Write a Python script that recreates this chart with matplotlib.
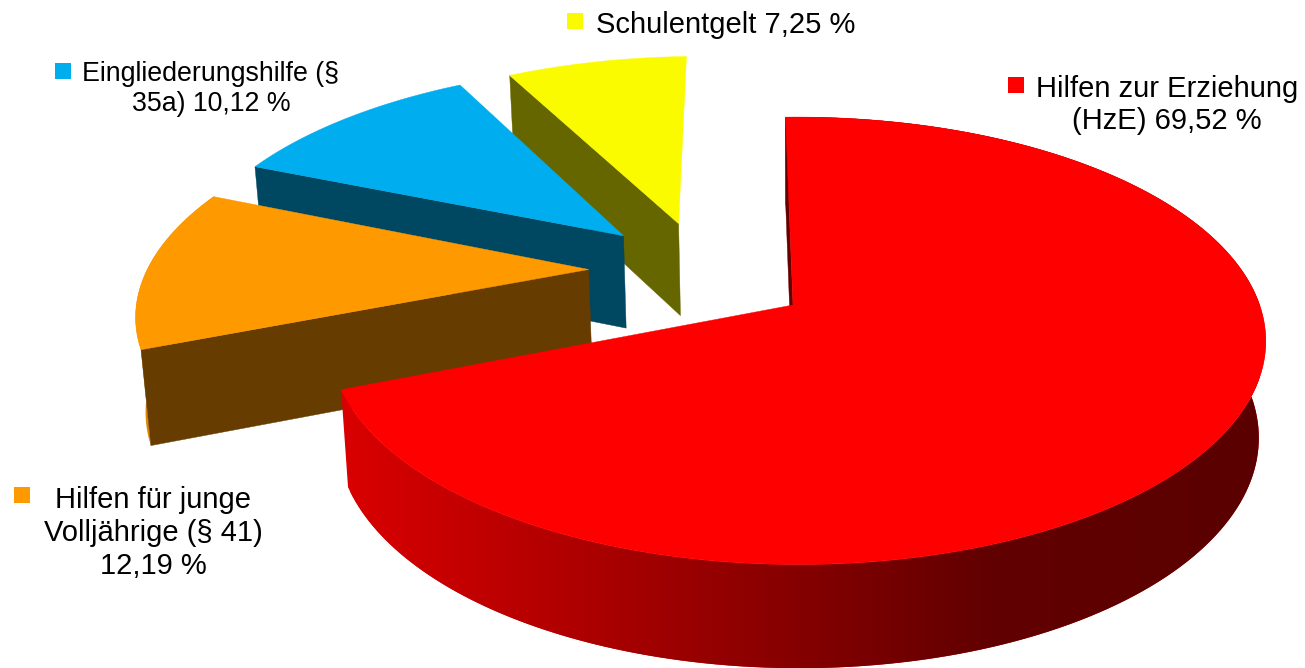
import numpy as np
import matplotlib
matplotlib.use('Agg')
import matplotlib.pyplot as plt
from matplotlib.colors import LinearSegmentedColormap

plt.rcParams['font.family'] = ['Liberation Sans', 'DejaVu Sans']

values = [69.52, 12.19, 10.12, 7.25]
label_texts = ['Hilfen zur Erziehung\n(HzE) 69,52 %', 'Hilfen für junge\nVolljährige (§ 41)\n12,19 %',
               'Eingliederungshilfe (§\n35a) 10,12 %', 'Schulentgelt 7,25 %']

top_colors = ['#ff0000', '#ff9900', '#00aeef', '#fbfb00']
side_colors = ['#660000', '#663c00', '#004762', '#666600']
arc_colors = ['#d80000', '#e08600', None, None]
# how far each slice is pulled out, in units of the radius
explode = [(0, 0), (-0.456, 0.168), (-0.388, 0.336), (-0.264, 0.398)]

label_pos = [(1167, 105), (153, 533), (211, 89), (726, 25)]
key_pos = [(1016, 85), (22, 495), (63, 71), (575, 21)]
label_size = [21, 21, 19.3, 21]

CX, CY = 793, 305
RX, RY = 462, 218
PERSP = 0.16
PERSP_X = 0.01
DEPTH = 95
START = -3.0

red_side = LinearSegmentedColormap.from_list('red_side', [(0, '#d80000'), (0.7, '#620000'), (1, '#5a0000')])


def project(x, y, bottom=False):
    w = 1 + PERSP * y - PERSP_X * x
    sx = CX + RX * x / w
    sy = CY - RY * y / w
    if bottom:
        sx = 800 + (sx - 800) * 0.985
        sy = sy + DEPTH / np.sqrt(w)
    return np.column_stack([sx, sy])


def warp(a):
    # the camera view squeezes the angles a bit
    return a + 2 * np.sin(np.radians(2 * (a - 320)))


fig = plt.figure(figsize=(13.05, 6.68), dpi=100)
ax = fig.add_axes([0, 0, 1, 1])

angles = np.cumsum([0] + values) / sum(values) * 360 + START

# back slices first, the red one goes on top
for i in [3, 2, 1, 0]:
    z = 1 + (3 - i) * 3
    t = np.radians(warp(np.linspace(angles[i], angles[i + 1], 200)))
    ex, ey = explode[i]
    xs = ex + np.sin(t)
    ys = ey + np.cos(t)
    apex_t = project(np.array([ex]), np.array([ey]))
    apex_b = project(np.array([ex]), np.array([ey]), True)
    rim_t = project(xs, ys)
    rim_b = project(xs, ys, True)

    if arc_colors[i]:
        side = np.vstack([rim_t, rim_b[::-1]])
        poly = ax.fill(side[:, 0], side[:, 1], color=arc_colors[i], lw=0, zorder=z)[0]
        if i == 0:
            grad = ax.imshow(np.linspace(0, 1, 512)[None, :], cmap=red_side, aspect='auto',
                             extent=(350, 1260, 668, 0), zorder=z)
            grad.set_clip_path(poly)

    # only the cut face at the start angle can be seen from the camera
    face = np.vstack([apex_t, rim_t[0], rim_b[0], apex_b])
    ax.fill(face[:, 0], face[:, 1], color=side_colors[i], lw=0.3, zorder=z + 1)

    top = np.vstack([apex_t, rim_t])
    ax.fill(top[:, 0], top[:, 1], color=top_colors[i], lw=0.3, zorder=z + 2)

for i in range(4):
    ax.scatter(*key_pos[i], s=130, marker='s', color=top_colors[i], linewidths=0, zorder=20)
    ax.text(*label_pos[i], label_texts[i], ha='center', va='center', fontsize=label_size[i],
            color='black', linespacing=1.22, zorder=20)

ax.set_xlim(0, 1305)
ax.set_ylim(668, 0)
ax.axis('off')

fig.savefig('out.png', dpi=100, facecolor='white')
